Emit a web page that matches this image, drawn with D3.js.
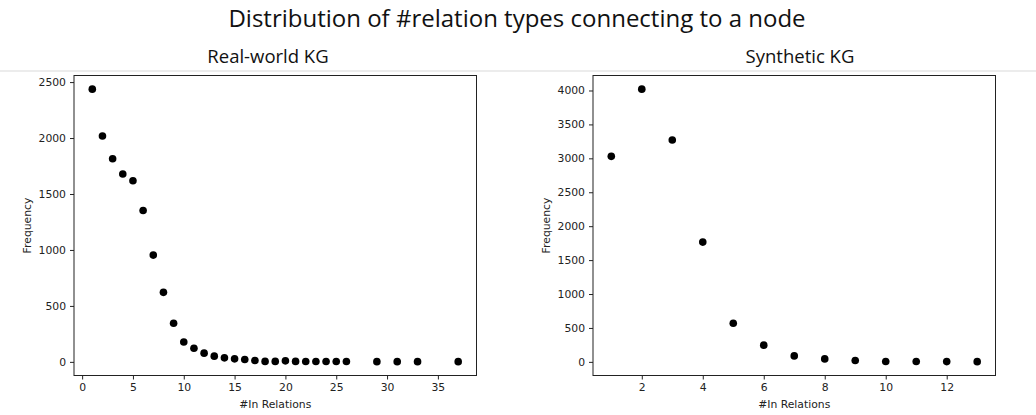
<!DOCTYPE html>
<html>
<head>
<meta charset="utf-8">
<script src="https://cdn.jsdelivr.net/npm/d3@7"></script>
<style>
  body { margin: 0; background: #fff; }
  svg { display: block; }
  .tick text { font-family: "DejaVu Sans", sans-serif; font-size: 10.8px; fill: #222; }
  .tick line { stroke: #222; }
</style>
</head>
<body>
<svg width="1036" height="415"></svg>
<script>

// data
const realX = [1,2,3,4,5,6,7,8,9,10,11,12,13,14,15,16,17,18,19,20,21,22,23,24,25,26,29,31,33,37];
const realY = [2437,2018,1815,1679,1619,1352,954,621,345,178,122,78,51,36,27,21,12,4,4,9,4,3,3,3,3,3,2,2,2,2];
const realXTicks = [0,5,10,15,20,25,30,35];
const realYTicks = [0,500,1000,1500,2000,2500];

const synX = [1,2,3,4,5,6,7,8,9,10,11,12,13];
const synY = [3029,4020,3270,1765,569,246,88,44,20,5,5,4,3];
const synXTicks = [2,4,6,8,10,12];
const synYTicks = [0,500,1000,1500,2000,2500,3000,3500,4000];

const svg = d3.select("svg");

svg.append("text")
  .attr("x", 517).attr("y", 27)
  .attr("text-anchor", "middle")
  .style("font-family", "Open Sans")
  .style("font-size", "24px")
  .style("fill", "#111")
  .text("Distribution of #relation types connecting to a node");

svg.append("line")
  .attr("x1", 0).attr("x2", 1036)
  .attr("y1", 71).attr("y2", 71)
  .attr("stroke", "#d9d9d9").attr("stroke-width", 1.2);

// matplotlib style 5% padding
function pad(ext) {
  let m = (ext[1] - ext[0]) * 0.05;
  return [ext[0] - m, ext[1] + m];
}

function scatter(xs, ys, xticks, yticks, box, title, titleX) {
  let pts = xs.map((v, i) => ({x: v, y: ys[i]}));

  let x = d3.scaleLinear().domain(pad(d3.extent(xs))).range([box.left, box.right]);
  let y = d3.scaleLinear().domain(pad([0, d3.max(ys)])).range([box.bottom, box.top]);

  svg.append("text")
    .attr("x", titleX).attr("y", 62.5)
    .attr("text-anchor", "middle")
    .style("font-family", "Open Sans")
    .style("font-size", "18.5px")
    .style("fill", "#111")
    .text(title);

  let g = svg.append("g");

  g.append("g")
    .attr("transform", "translate(0," + box.bottom + ")")
    .call(d3.axisBottom(x).tickValues(xticks).tickSize(4).tickPadding(4).tickFormat(d3.format("d")))
    .call(a => a.select(".domain").remove());

  g.append("g")
    .attr("transform", "translate(" + box.left + ",0)")
    .call(d3.axisLeft(y).tickValues(yticks).tickSize(4).tickPadding(4).tickFormat(d3.format("d")))
    .call(a => a.select(".domain").remove());

  g.append("rect")
    .attr("x", box.left).attr("y", box.top)
    .attr("width", box.right - box.left)
    .attr("height", box.bottom - box.top)
    .attr("fill", "none")
    .attr("stroke", "#222")
    .attr("stroke-width", 1);

  g.selectAll("circle")
    .data(pts)
    .enter()
    .append("circle")
    .attr("cx", d => x(d.x))
    .attr("cy", d => y(d.y))
    .attr("r", 3.8)
    .attr("fill", "#000");

  g.append("text")
    .attr("x", (box.left + box.right) / 2).attr("y", 408)
    .attr("text-anchor", "middle")
    .style("font-family", "DejaVu Sans")
    .style("font-size", "10.8px")
    .style("fill", "#222")
    .text("#In Relations");

  g.append("text")
    .attr("transform", "translate(" + (box.left - 43) + "," + ((box.top + box.bottom) / 2) + ") rotate(-90)")
    .attr("text-anchor", "middle")
    .style("font-family", "DejaVu Sans")
    .style("font-size", "10.8px")
    .style("fill", "#222")
    .text("Frequency");
}

scatter(realX, realY, realXTicks, realYTicks,
  {left: 74, right: 476.5, top: 75.5, bottom: 375.5}, "Real-world KG", 268);

scatter(synX, synY, synXTicks, synYTicks,
  {left: 593, right: 995.5, top: 75.5, bottom: 375.5}, "Synthetic KG", 800);

</script>
</body>
</html>
